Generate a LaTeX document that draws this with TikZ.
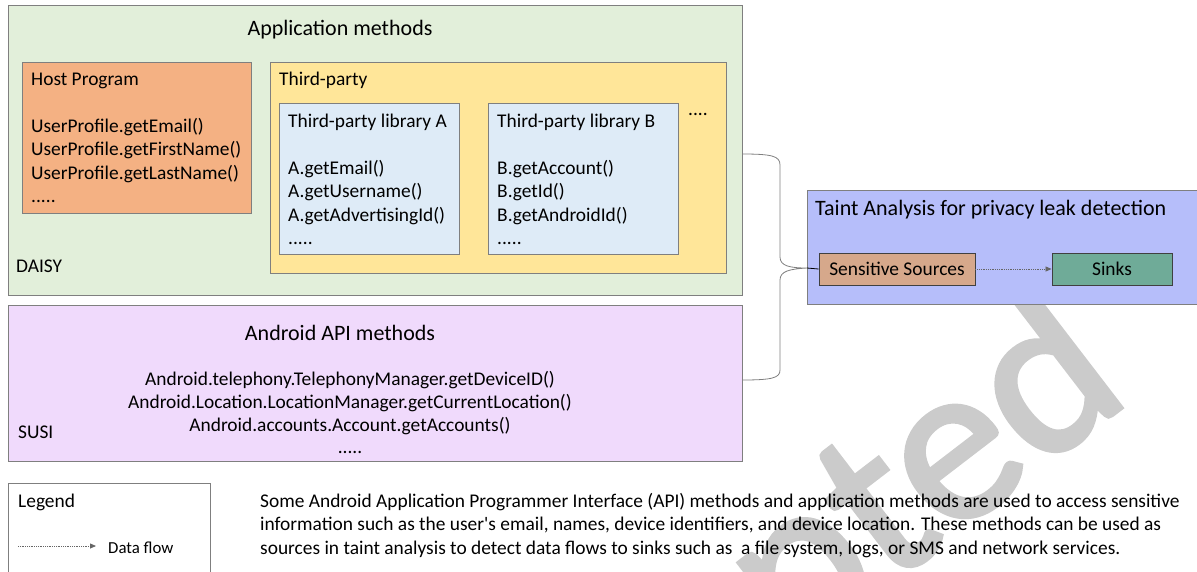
\documentclass[tikz,border=0pt]{standalone}
\usepackage{fontspec}
\setmainfont{Carlito}
\newfontfamily\stampfont{Carlito}[FakeBold=2]
\usetikzlibrary{arrows.meta}
\definecolor{daisyfill}{HTML}{E2EFDA}
\definecolor{hostfill}{HTML}{F4B183}
\definecolor{thirdfill}{HTML}{FFE699}
\definecolor{libfill}{HTML}{DEEBF7}
\definecolor{susifill}{HTML}{F0DAFC}
\definecolor{taintfill}{HTML}{B6BEFA}
\definecolor{srcfill}{HTML}{D6A88B}
\definecolor{sinkfill}{HTML}{6FAB98}
\definecolor{edgegray}{HTML}{7F7F7F}
\definecolor{markgray}{HTML}{CBCBCB}
\tikzset{
  panel/.style={draw=edgegray, line width=0.9pt, anchor=north west, inner sep=0pt},
  txt/.style={inner sep=0pt, font=\fontsize{19.4}{23.4}\selectfont},
  listing/.style={txt, align=left, anchor=north west},
  heading/.style={inner sep=0pt, font=\fontsize{22}{26}\selectfont},
  flow/.style={densely dotted, draw=black!60, line width=0.8pt, -{Triangle[length=6pt,width=5pt]}},
}
\begin{document}
\begin{tikzpicture}[x=1pt, y=-1pt]
\useasboundingbox (0,0) rectangle (1197,571);
% faint stamp in the background
\begin{scope}
  \clip (0,0) rectangle (1197,571);
  \node[text=markgray, rotate=37.5, anchor=base east, inner sep=0pt,
        font=\stampfont\fontsize{230}{230}\selectfont] (stamp) at (1134,398) {Accepted};
\end{scope}
% application methods (DAISY)
\node[panel, fill=daisyfill, minimum width=734pt, minimum height=290pt] (daisy) at (8,5) {};
\node[heading] (apptitle) at (340,30) {Application methods};
\node[txt, anchor=base west] (daisylbl) at (16,272) {DAISY};
\node[panel, fill=hostfill, minimum width=229pt, minimum height=151pt] (host) at (22,62) {};
\node[listing] (hosttxt) at (31,73) {Host Program\\ \mbox{}\\ UserProfile.getEmail()\\ UserProfile.getFirstName()\\ UserProfile.getLastName()\\ .....};
\node[panel, fill=thirdfill, minimum width=456pt, minimum height=211pt] (third) at (270,62) {};
\node[txt, anchor=base west] (thirdlbl) at (279,85) {Third-party};
\node[panel, fill=libfill, minimum width=180pt, minimum height=151pt] (liba) at (279,103) {};
\node[listing] (libatxt) at (288,114) {Third-party library A\\ \mbox{}\\ A.getEmail()\\ A.getUsername()\\ A.getAdvertisingId()\\ .....};
\node[panel, fill=libfill, minimum width=190pt, minimum height=151pt] (libb) at (488,103) {};
\node[listing] (libbtxt) at (497,114) {Third-party library B\\ \mbox{}\\ B.getAccount()\\ B.getId()\\ B.getAndroidId()\\ .....};
\node[txt, anchor=base west] (moredots) at (688,115) {....};
% Android API methods (SUSI)
\node[panel, fill=susifill, minimum width=734pt, minimum height=156pt] (susi) at (8,305) {};
\node[heading, anchor=base] (apititle) at (340,340) {Android API methods};
\node[txt, anchor=base] (api1) at (350,385) {Android.telephony.TelephonyManager.getDeviceID()};
\node[txt, anchor=base] (api2) at (350,408) {Android.Location.LocationManager.getCurrentLocation()};
\node[txt, anchor=base] (api3) at (350,431) {Android.accounts.Account.getAccounts()};
\node[txt, anchor=base] (api4) at (350,453) {.....};
\node[txt, anchor=base west] (susilbl) at (18,438) {SUSI};
% taint analysis
\node[panel, fill=taintfill, minimum width=392pt, minimum height=114pt] (taint) at (807,190) {};
\node[heading, anchor=base west] (tainttitle) at (815,215) {Taint Analysis for privacy leak detection};
\node[panel, draw=black!75, fill=srcfill, minimum width=156pt, minimum height=32pt, anchor=center, txt] (src) at (897,269) {Sensitive Sources};
\node[panel, draw=black!75, fill=sinkfill, minimum width=120pt, minimum height=32pt, anchor=center, txt] (sink) at (1112,269) {Sinks};
\draw[flow] (src) -- (sink);
% brace joining both method groups to the sources
\coordinate (tip) at (807,268);
\draw[edgegray, line width=0.8pt] (742,154) .. controls (772,154) and (780,156) .. (780,165)
  -- (780,257) .. controls (780,266) and (790,268) .. (tip)
  .. controls (790,269) and (780,271) .. (780,280)
  -- (780,370) .. controls (780,378) and (772,380) .. (742,380);
\draw[black, line width=0.8pt] (tip) -- (src.west);
% legend
\node[panel, fill=white, minimum width=202pt, minimum height=100pt] (legend) at (8,483) {};
\node[txt, anchor=base west] (legendlbl) at (18,507) {Legend};
\coordinate (lgstart) at (18,546);
\node[inner sep=0pt, anchor=base west, font=\fontsize{16.8}{20}\selectfont] (lgtxt) at (108,553) {Data flow};
\draw[flow] (lgstart) -- (96,546);
% explanatory note
\node[inner sep=0pt, anchor=north west, align=left, font=\fontsize{19.4}{23.5}\selectfont] (note) at (260,493)
  {Some Android Application Programmer Interface (API) methods and application methods are used to access sensitive\\
   information such as the user\textquotesingle s email, names, device identifiers, and device location. These methods can be used as\\
   sources in taint analysis to detect data flows to sinks such as\ \ a file system, logs, or SMS and network services.};
\end{tikzpicture}
\end{document}
